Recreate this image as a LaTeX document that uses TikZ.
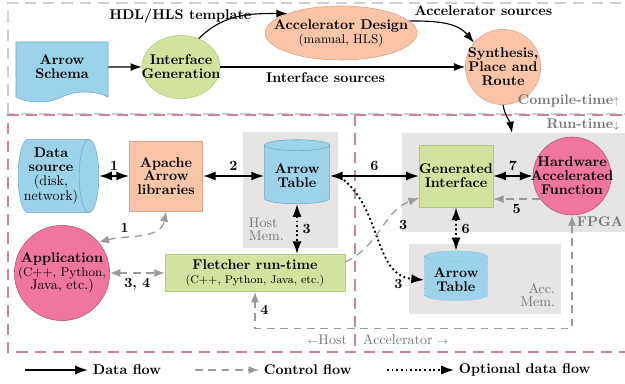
\documentclass[tikz,border=0pt]{standalone}
\usepackage{tikz}
\usepackage{amsmath,amssymb}
\usepackage{xcolor}
\usetikzlibrary{positioning, calc, arrows.meta, shapes.geometric, shapes.symbols}

\definecolor{arrowblue}{HTML}{9DD3EA}
\definecolor{arrowblueline}{HTML}{6FA9C6}
\definecolor{salmon}{HTML}{F9C4A8}
\definecolor{salmonline}{HTML}{DDA084}
\definecolor{ifgreen}{HTML}{D1E39E}
\definecolor{ifgreenline}{HTML}{B2CC7E}
\definecolor{hwpink}{HTML}{F075A0}
\definecolor{hwpinkline}{HTML}{B4567A}
\definecolor{memgray}{HTML}{E6E5E3}
\definecolor{regionpink}{HTML}{C9859F}
\definecolor{regiongray}{HTML}{CFCFCF}
\definecolor{ctrlgray}{HTML}{9A9A9A}
\definecolor{notegray}{HTML}{777777}

\tikzset{
  datatip/.tip={Latex[length=3.2mm,width=2.3mm]},
  ctrltip/.tip={Latex[length=2.6mm,width=2mm]},
  thintip/.tip={Latex[length=2.8mm,width=2mm]},
  boldtext/.style={font=\bfseries\linespread{0.82}\selectfont, align=center},
  plaintext/.style={font=\linespread{0.82}\selectfont, align=center},
  notetext/.style={text=notegray, font=\linespread{0.82}\selectfont},
  thinarrow/.style={line width=0.8pt, -thintip},
  dataflow/.style={line width=1.3pt},
  ctrlflow/.style={ctrlgray, line width=0.9pt, dash pattern=on 5.5pt off 4pt},
  optflow/.style={line width=1.3pt, dotted},
  region/.style={line width=0.8pt, dash pattern=on 8pt off 5pt},
  bluebox/.style={fill=arrowblue, draw=arrowblueline},
  salmonbox/.style={fill=salmon, draw=salmonline},
  greenbox/.style={fill=ifgreen, draw=ifgreenline},
  pinkbox/.style={fill=hwpink, draw=hwpinkline},
  tablecyl/.style={bluebox, cylinder, shape border rotate=90, aspect=0.2, boldtext}
}

\begin{document}
\begin{tikzpicture}[x=0.25mm, y=0.25mm]
  \useasboundingbox (0,0) rectangle (625,383);

  \draw[region, regiongray] (8,269) rectangle (640,380);
  \draw[region, regionpink] (640,268) -- (8,268) -- (8,31) -- (640,31);
  \draw[region, regionpink] (355,268) -- (355,31);

  \fill[memgray] (243,135) rectangle (338,251);
  \fill[memgray] (402,151) rectangle (630,250);
  \fill[memgray] (409,69) rectangle (561,139);
  \coordinate (fpgatop) at (512,250);

  \node[bluebox, tape, tape bend top=none, tape bend bottom=in and out, tape bend height=2.5mm,
        minimum width=23mm, minimum height=15mm, boldtext] (schema) at (62,316) {Arrow\\Schema};
  \node[greenbox, ellipse, minimum width=19.5mm, minimum height=15.8mm,
        label={[boldtext]center:{Interface\\Generation}}] (igen) at (181,316) {};
  \node[salmonbox, ellipse, minimum width=38mm, minimum height=13.5mm,
        label={[plaintext]center:{\textbf{Accelerator Design}\\\small(manual, HLS)}}] (accdesign) at (341,350) {};
  \node[salmonbox, circle, minimum size=18.8mm,
        label={[boldtext]center:{Synthesis,\\Place and\\Route}}] (synth) at (503,316) {};

  \draw[thinarrow] (schema) -- (igen);
  \draw[thinarrow] (igen) -- node[pos=0.43, below, font=\bfseries]{Interface sources} (synth);
  \draw[thinarrow] (igen.58) to[out=45, in=180] node[pos=0.5, anchor=south east, inner sep=1pt, xshift=3.5mm, yshift=-2mm, font=\bfseries]{HDL/HLS template} (accdesign.160);
  \draw[thinarrow] (accdesign.10) to[out=0, in=130] node[pos=0, above right, font=\bfseries]{Accelerator sources} (synth.140);
  \draw[thinarrow] (synth.south) to[out=-80, in=100] (fpgatop);

  \node[notetext, anchor=east, font=\bfseries] (compilelabel) at (624,282) {Compile-time$\scriptstyle\uparrow$};
  \node[notetext, anchor=east, font=\bfseries] (runlabel) at (624,258) {Run-time$\scriptstyle\downarrow$};

  \node[bluebox, cylinder, aspect=0.3, inner xsep=0.5pt, minimum width=18.3mm, minimum height=16mm, plaintext]
        (source) at (51,207) {\textbf{Data}\\\textbf{source}\\(disk,\\network)};
  \node[salmonbox, minimum width=18.3mm, minimum height=17.5mm, boldtext] (apache) at (166,207) {Apache\\Arrow\\libraries};
  \node[tablecyl, minimum width=16.3mm, minimum height=16mm] (hosttable) at (297,207) {Arrow\\Table};
  \node[pinkbox, circle, minimum size=23.8mm,
        label={[plaintext]center:{\textbf{Application}\\\small(C++, Python,\\Java, etc.)}}] (app) at (62,110) {};
  \node[greenbox, minimum width=45mm, minimum height=9.3mm, plaintext]
        (fletcher) at (255,110) {\textbf{Fletcher run-time}\\\footnotesize(C++, Python, Java, etc.)};
  \node[greenbox, minimum width=18mm, minimum height=15.5mm, inner sep=0pt, boldtext] (genif) at (456,207) {Generated\\Interface};
  \node[pinkbox, circle, minimum size=19.5mm,
        label={[boldtext]center:{Hardware\\Accelerated\\Function}}] (haf) at (572,207) {};
  \node[tablecyl, draw=arrowblueline, dotted, minimum width=15.8mm, minimum height=12.5mm] (acctable) at (456,103) {Arrow\\Table};

  \node[notetext, anchor=south west, align=left] (hostmem) at (244,137) {Host\\Mem.};
  \node[notetext, anchor=south east, align=right] (accmem) at (560,71) {Acc.\\Mem.};
  \node[notetext, font=\bfseries] (fpgalabel) at (600,161) {FPGA};
  \node[notetext, anchor=east] (hostside) at (352,43) {$\scriptstyle\leftarrow$Host};
  \node[notetext, anchor=west] (accside) at (358,43) {Accelerator $\scriptstyle\rightarrow$};

  \draw[dataflow, datatip-datatip] (source) -- node[above, font=\bfseries]{1} (apache);
  \draw[dataflow, datatip-datatip] (apache) -- node[above, font=\bfseries]{2} (hosttable);
  \draw[dataflow, datatip-datatip] (hosttable) -- node[above, font=\bfseries]{6} (genif);
  \draw[dataflow, datatip-datatip] (genif) -- node[above, font=\bfseries]{7} (haf);
  \draw[optflow, datatip-datatip] (hosttable.south) -- node[right, font=\bfseries]{3} (hosttable.south |- fletcher.north);
  \draw[optflow, datatip-datatip] (genif) -- node[right, font=\bfseries]{6} (acctable);
  \draw[optflow, -datatip] ($(hosttable.east)+(14,-4)$) to[out=-40, in=175] node[at end, left=4mm, yshift=-1mm, font=\bfseries]{3} (acctable.west);

  \draw[ctrlflow, -ctrltip] (haf.216) -- node[below, font=\bfseries, text=black]{5} (genif.east |- haf.216);
  \draw[ctrlflow, -ctrltip] ($(fletcher.east)+(0,11)$) to[out=25, in=200] node[pos=0.7, below right, font=\bfseries, text=black]{3} ($(genif.west)+(0,-22)$);
  \draw[ctrlflow, ctrltip-ctrltip] (app.40) to[out=15, in=-100] node[pos=0.3, above, font=\bfseries, text=black]{1} (apache.south);
  \draw[ctrlflow, ctrltip-ctrltip] (app) -- node[below, font=\bfseries, text=black]{3, 4} (fletcher);
  \draw[ctrlflow, ctrltip-ctrltip] (haf.south) -- ++(0,-113) -| node[pos=0.75, right, font=\bfseries, text=black]{4} (fletcher.south);

  \coordinate (legdatastart) at (25,13);
  \node[anchor=west, font=\bfseries] (legdata) at (88,13) {Data flow};
  \draw[dataflow, -datatip] (legdatastart) -- (legdata);
  \coordinate (legctrlstart) at (195,13);
  \node[anchor=west, font=\bfseries] (legctrl) at (259,13) {Control flow};
  \draw[ctrlflow, -ctrltip] (legctrlstart) -- (legctrl);
  \coordinate (legoptstart) at (387,13);
  \node[anchor=west, font=\bfseries] (legopt) at (454,13) {Optional data flow};
  \draw[optflow, -datatip] (legoptstart) -- (legopt);
\end{tikzpicture}
\end{document}
